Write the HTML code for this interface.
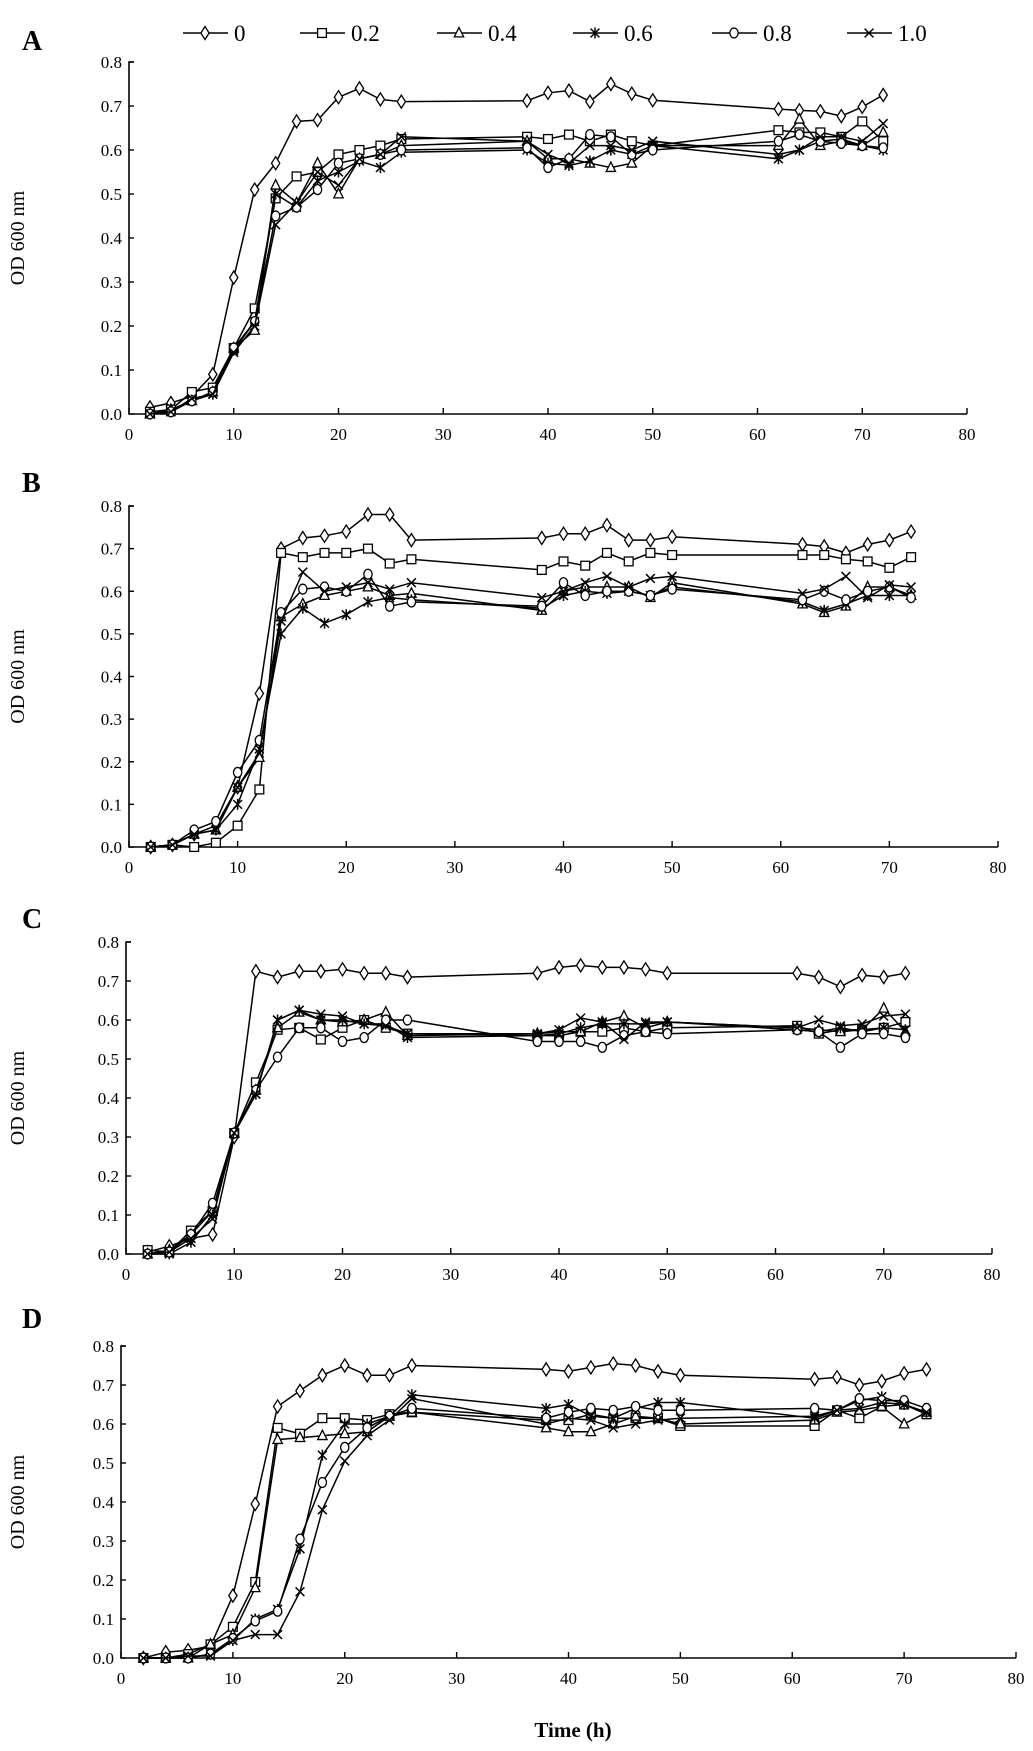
<!DOCTYPE html>
<html><head><meta charset="utf-8"><style>
html,body{margin:0;padding:0;background:#fff;}
svg{display:block;}
text{font-family:"Liberation Serif",serif;fill:#000;}
</style></head><body>
<svg id="chart" width="1033" height="1751" viewBox="0 0 1033 1751" xmlns="http://www.w3.org/2000/svg"></svg>
<script>
const times=[2,4,6,8,10,12,14,16,18,20,22,24,26,38,40,42,44,46,48,50,62,64,66,68,70,72];
const seriesNames=["0","0.2","0.4","0.6","0.8","1.0"];
const markers=["diamond","square","triangle","star","circle","cross"];
const xTicks=[0,10,20,30,40,50,60,70,80];
const yTicks=[0,0.1,0.2,0.3,0.4,0.5,0.6,0.7,0.8];
const yTickLabels=["0.0","0.1","0.2","0.3","0.4","0.5","0.6","0.7","0.8"];
const panelLabels=["A","B","C","D"];
const A0=[0.015,0.025,0.04,0.09,0.31,0.51,0.57,0.665,0.668,0.72,0.74,0.715,0.71,0.712,0.73,0.735,0.71,0.75,0.728,0.713,0.693,0.69,0.688,0.677,0.698,0.725];
const A2=[0.005,0.01,0.05,0.06,0.15,0.24,0.49,0.54,0.55,0.59,0.60,0.61,0.625,0.63,0.625,0.635,0.62,0.635,0.62,0.61,0.645,0.64,0.64,0.63,0.665,0.62];
const A4=[0,0.01,0.03,0.05,0.15,0.19,0.52,0.48,0.57,0.50,0.58,0.59,0.61,0.62,0.58,0.58,0.57,0.56,0.57,0.61,0.61,0.67,0.61,0.62,0.61,0.64];
const A6=[0,0.005,0.03,0.045,0.145,0.21,0.50,0.47,0.53,0.55,0.575,0.56,0.595,0.60,0.57,0.565,0.575,0.60,0.59,0.61,0.58,0.60,0.62,0.625,0.61,0.60];
const A8=[0,0.005,0.03,0.05,0.15,0.21,0.45,0.47,0.51,0.57,0.58,0.59,0.60,0.605,0.56,0.58,0.635,0.63,0.59,0.60,0.62,0.635,0.62,0.615,0.61,0.605];
const A10=[0,0.005,0.035,0.045,0.14,0.20,0.43,0.48,0.55,0.52,0.58,0.59,0.63,0.62,0.59,0.57,0.61,0.61,0.60,0.62,0.59,0.60,0.63,0.63,0.62,0.66];
const B0=[0,0.005,0.03,0.05,0.14,0.36,0.70,0.725,0.73,0.74,0.78,0.78,0.72,0.725,0.735,0.735,0.755,0.72,0.72,0.728,0.71,0.705,0.69,0.71,0.72,0.74];
const B2=[0,0.005,0,0.01,0.05,0.135,0.69,0.68,0.69,0.69,0.70,0.665,0.675,0.65,0.67,0.66,0.69,0.67,0.69,0.685,0.685,0.685,0.675,0.67,0.655,0.68];
const B4=[0,0.005,0.03,0.04,0.14,0.21,0.54,0.57,0.59,0.60,0.61,0.59,0.595,0.555,0.60,0.61,0.61,0.61,0.585,0.62,0.57,0.55,0.565,0.61,0.61,0.59];
const B6=[0,0.005,0.03,0.04,0.10,0.23,0.50,0.56,0.525,0.545,0.575,0.585,0.58,0.56,0.59,0.60,0.595,0.60,0.59,0.61,0.575,0.555,0.57,0.59,0.59,0.59];
const B8=[0,0.005,0.04,0.06,0.175,0.25,0.55,0.605,0.61,0.60,0.64,0.565,0.575,0.565,0.62,0.59,0.60,0.60,0.59,0.605,0.58,0.60,0.58,0.60,0.61,0.585];
const B10=[0,0.005,0.03,0.04,0.14,0.22,0.53,0.645,0.60,0.61,0.62,0.605,0.62,0.585,0.60,0.62,0.635,0.61,0.63,0.635,0.595,0.605,0.635,0.585,0.615,0.61];
const C0=[0.005,0.02,0.04,0.05,0.30,0.725,0.71,0.725,0.725,0.73,0.72,0.72,0.71,0.72,0.735,0.74,0.735,0.735,0.73,0.72,0.72,0.71,0.685,0.715,0.71,0.72];
const C2=[0.01,0.005,0.06,0.11,0.31,0.44,0.575,0.58,0.55,0.58,0.60,0.58,0.565,0.56,0.56,0.57,0.57,0.58,0.57,0.58,0.585,0.565,0.575,0.575,0.58,0.595];
const C4=[0,0.01,0.05,0.11,0.31,0.42,0.58,0.62,0.60,0.595,0.60,0.62,0.56,0.565,0.57,0.57,0.595,0.61,0.58,0.595,0.58,0.575,0.57,0.575,0.63,0.57];
const C6=[0,0,0.03,0.10,0.31,0.41,0.60,0.625,0.60,0.60,0.59,0.59,0.555,0.56,0.565,0.58,0.59,0.59,0.59,0.595,0.575,0.57,0.58,0.57,0.58,0.575];
const C8=[0,0.005,0.05,0.13,0.31,0.42,0.505,0.58,0.58,0.545,0.555,0.60,0.60,0.545,0.545,0.545,0.53,0.56,0.57,0.565,0.575,0.57,0.53,0.565,0.565,0.555];
const C10=[0,0.005,0.04,0.09,0.31,0.41,0.60,0.625,0.615,0.61,0.59,0.585,0.565,0.565,0.575,0.605,0.595,0.55,0.595,0.595,0.58,0.60,0.585,0.59,0.61,0.615];
const D0=[0,0.015,0.02,0.03,0.16,0.395,0.645,0.685,0.725,0.75,0.725,0.725,0.75,0.74,0.735,0.745,0.755,0.75,0.735,0.725,0.715,0.72,0.70,0.71,0.73,0.74];
const D2=[0,0,0.01,0.035,0.08,0.195,0.59,0.575,0.615,0.615,0.61,0.625,0.63,0.61,0.61,0.625,0.615,0.615,0.615,0.595,0.595,0.635,0.615,0.645,0.65,0.625];
const D4=[0,0,0,0.035,0.06,0.18,0.56,0.565,0.57,0.575,0.58,0.62,0.63,0.59,0.58,0.58,0.60,0.62,0.615,0.60,0.61,0.63,0.635,0.645,0.60,0.63];
const D6=[0,0,0,0.01,0.045,0.10,0.125,0.28,0.52,0.60,0.60,0.62,0.675,0.64,0.65,0.62,0.615,0.64,0.655,0.655,0.615,0.635,0.66,0.67,0.65,0.63];
const D8=[0,0,0,0.01,0.05,0.095,0.12,0.305,0.45,0.54,0.59,0.62,0.64,0.615,0.63,0.64,0.635,0.645,0.635,0.635,0.64,0.635,0.665,0.66,0.66,0.64];
const D10=[0,0,0.005,0.005,0.045,0.06,0.06,0.17,0.38,0.505,0.57,0.61,0.665,0.60,0.615,0.61,0.59,0.60,0.61,0.615,0.62,0.635,0.64,0.655,0.65,0.63];
const panelData=[[A0,A2,A4,A6,A8,A10],[B0,B2,B4,B6,B8,B10],[C0,C2,C4,C6,C8,C10],[D0,D2,D4,D6,D8,D10]];

const NS="http://www.w3.org/2000/svg";
const svg=document.getElementById('chart');
function el(tag,attrs,parent){const e=document.createElementNS(NS,tag);for(const k in attrs)e.setAttribute(k,attrs[k]);(parent||svg).appendChild(e);return e;}
const geoms=[
 {x0:129,x1:967,y0:414,y1:62,ly:50},
 {x0:129,x1:998,y0:847,y1:506,ly:492},
 {x0:126,x1:992,y0:1254,y1:942,ly:928},
 {x0:121,x1:1016,y0:1658,y1:1346,ly:1328}
];
function marker(g,type,cx,cy,s){
 const st={fill:'#fff',stroke:'#000','stroke-width':1.3};
 let m;
 if(type==='diamond'){m=el('polygon',Object.assign({points:`${cx},${cy-s-1} ${cx+s*0.75},${cy} ${cx},${cy+s+1} ${cx-s*0.75},${cy}`},st),g);}
 else if(type==='square'){m=el('rect',Object.assign({x:cx-s*0.8,y:cy-s*0.8,width:s*1.6,height:s*1.6},st),g);}
 else if(type==='triangle'){m=el('polygon',Object.assign({points:`${cx},${cy-s} ${cx+s*0.85},${cy+s*0.7} ${cx-s*0.85},${cy+s*0.7}`},st),g);}
 else if(type==='circle'){m=el('ellipse',Object.assign({cx:cx,cy:cy,rx:s*0.75,ry:s*0.9},st),g);}
 else if(type==='star'){m=el('path',{d:`M${cx-s*0.8},${cy-s*0.8}L${cx+s*0.8},${cy+s*0.8}M${cx+s*0.8},${cy-s*0.8}L${cx-s*0.8},${cy+s*0.8}M${cx},${cy-s}L${cx},${cy+s}`,stroke:'#000','stroke-width':1.5,fill:'none'},g);}
 else {m=el('path',{d:`M${cx-s*0.8},${cy-s*0.8}L${cx+s*0.8},${cy+s*0.8}M${cx+s*0.8},${cy-s*0.8}L${cx-s*0.8},${cy+s*0.8}`,stroke:'#000','stroke-width':1.5,fill:'none'},g);}
 return m;
}
panelData.forEach((series,pi)=>{
 const G=geoms[pi];
 const xs=v=>G.x0+(G.x1-G.x0)*v/80;
 const ys=v=>G.y0+(G.y1-G.y0)*v/0.8;
 const p=el('g',{});
 
 
 const lab=el('text',{x:22,y:G.ly,'font-size':28,'font-weight':'bold'},p);
 lab.textContent=panelLabels[pi];
 
 
 const yt=el('text',{x:0,y:0,'font-size':20,'text-anchor':'middle',transform:`translate(24,${(G.y0+G.y1)/2}) rotate(-90)`},p);
 yt.textContent='OD 600 nm';
 
 
 const ax=el('path',{d:`M${G.x0+5},${G.y1}H${G.x0}V${G.y0}H${G.x1}`,stroke:'#000','stroke-width':1.6,fill:'none'},p);
 
 
 yTicks.forEach((t,i)=>{
  el('line',{x1:G.x0,x2:G.x0+5,y1:ys(t),y2:ys(t),stroke:'#000','stroke-width':1.4},p);
  const tl=el('text',{x:G.x0-7,y:ys(t)+6,'font-size':17,'text-anchor':'end'},p);
  tl.textContent=yTickLabels[i];
  
  
 });
 xTicks.forEach(t=>{
  el('line',{x1:xs(t),x2:xs(t),y1:G.y0,y2:G.y0-6,stroke:'#000','stroke-width':1.4},p);
  const tl=el('text',{x:xs(t),y:G.y0+26,'font-size':17,'text-anchor':'middle'},p);
  tl.textContent=String(t);
  
  
 });
 series.forEach((vals,si)=>{
  const g=el('g',{},p);
  
  
  const pts=vals.map((v,i)=>xs(times[i]).toFixed(1)+','+ys(v).toFixed(1)).join(' ');
  const ln=el('polyline',{points:pts,fill:'none',stroke:'#000','stroke-width':1.5},g);
  
  
  vals.forEach((v,i)=>{
   const m=marker(g,markers[si],xs(times[i]),ys(v),5.5);
   
   
  });
 });
});
// legend
const legX=[183,300,437,573,712,847];
const lg=el('g',{});


seriesNames.forEach((n,i)=>{
 const g=el('g',{},lg);
 
 
 el('line',{x1:legX[i],x2:legX[i]+45,y1:33,y2:33,stroke:'#000','stroke-width':1.6},g);
 marker(g,markers[i],legX[i]+22,33,5.5);
 const t=el('text',{x:legX[i]+51,y:41,'font-size':23},g);
 t.textContent=n;
});
const xt=el('text',{x:573,y:1737,'font-size':21,'font-weight':'bold','text-anchor':'middle'});
xt.textContent='Time (h)';


</script>
</body></html>
